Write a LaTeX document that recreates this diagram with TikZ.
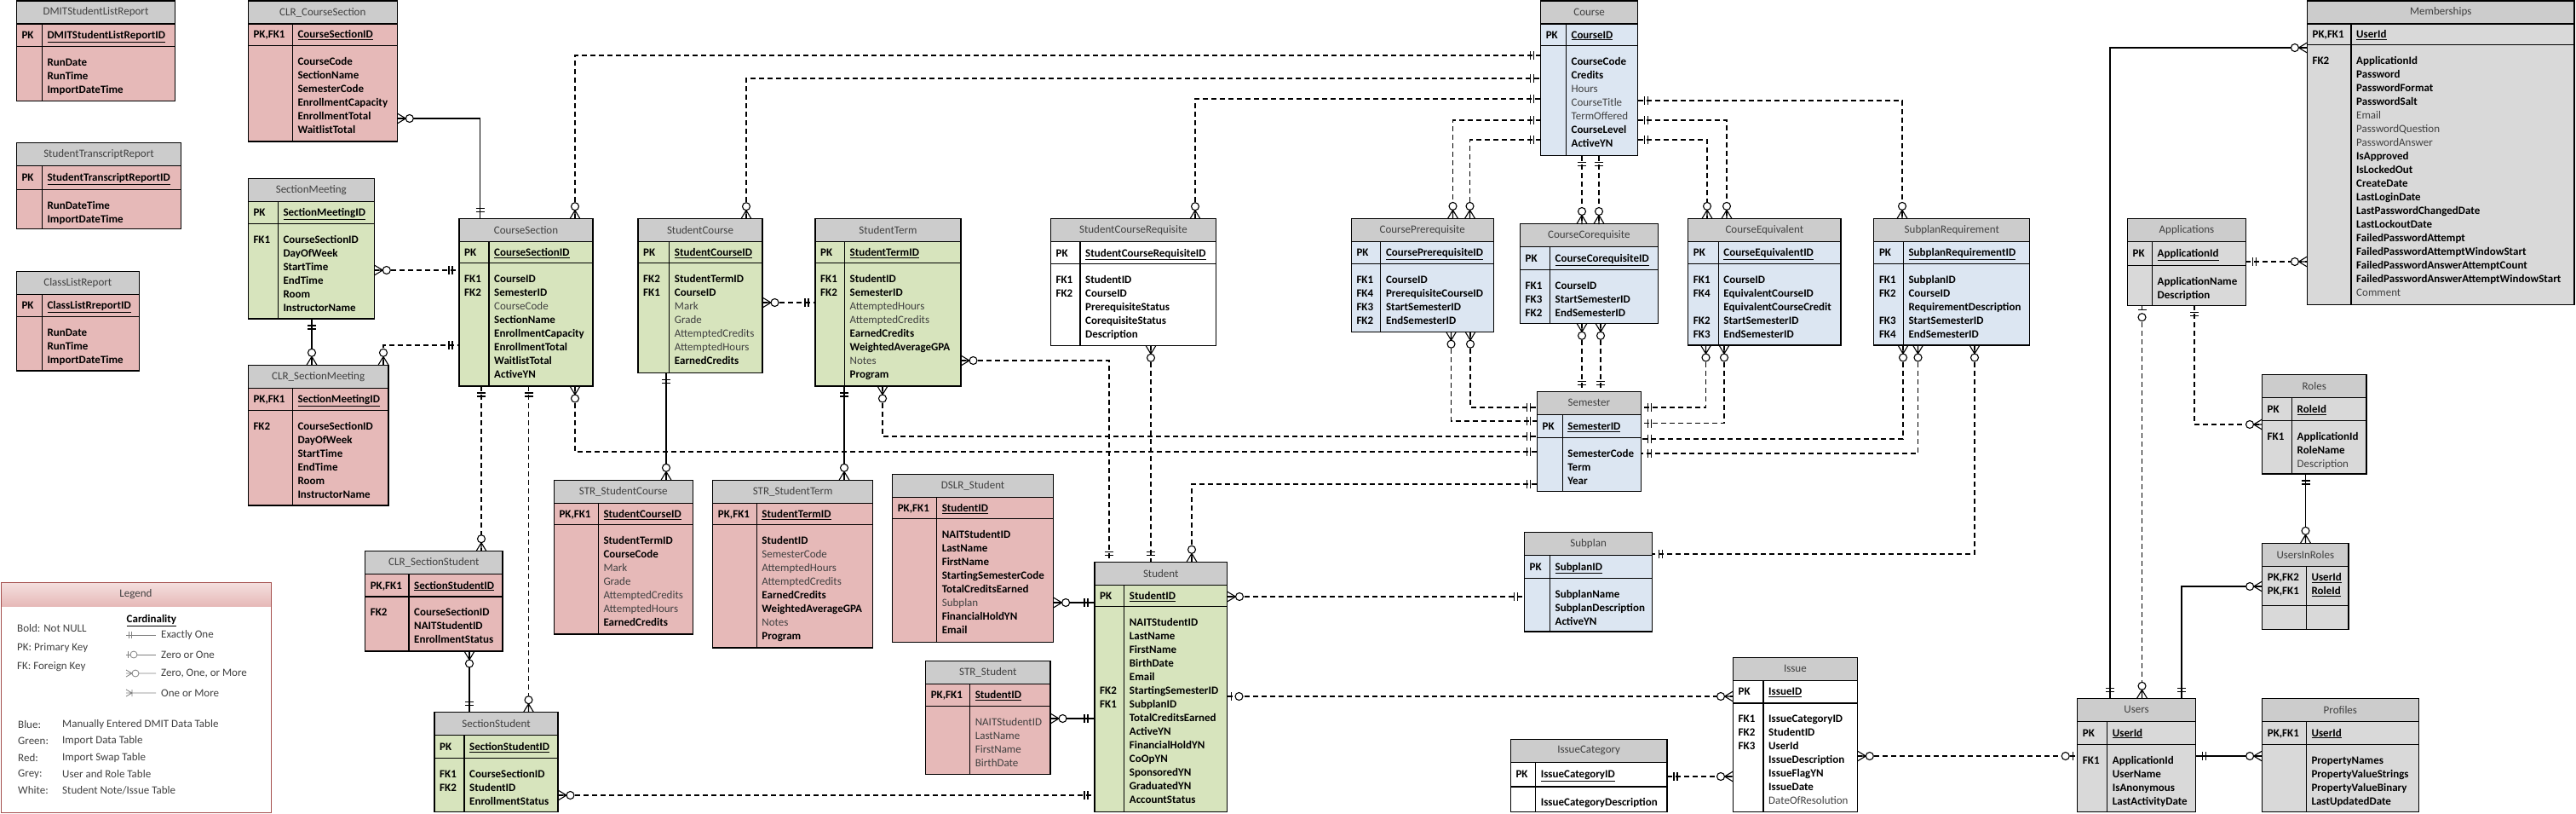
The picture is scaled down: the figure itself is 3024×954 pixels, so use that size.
\documentclass[tikz,border=0pt]{standalone}
\usepackage{fontspec}
\setmainfont{Carlito}
\definecolor{tred}{HTML}{E6B9B8}
\definecolor{tgreen}{HTML}{D7E4BD}
\definecolor{tblue}{HTML}{DCE6F2}
\definecolor{tgrey}{HTML}{D9D9D9}
\definecolor{thead}{HTML}{CCCCCC}
\definecolor{dgrey}{HTML}{404040}
\definecolor{lgred}{HTML}{A5504E}
\definecolor{lgtop}{HTML}{F4E0DF}
\definecolor{lgbot}{HTML}{E6B9B8}
\newcommand\optf[1]{{\mdseries\color{dgrey}#1}}
% table: name, left, top, width, key column, pk bottom, bottom, fill, title
\newcommand\etab[9]{%
  \node[tbl,fill=#8,minimum width=#4pt,minimum height={(#7-#3)*1pt},anchor=north west] (#1) at (#2,#3) {};
  \fill[thead] (#2,#3) rectangle (#2+#4,#3+27);
  \draw[tline] (#2,#3+27) -- ++(#4,0) (#2,#6) -- ++(#4,0) (#2+#5,#3+27) -- (#2+#5,#7);
  \draw[tline] (#1.north west) rectangle (#1.south east);
  \node[ttl] (#1-t) at (#2+#4/2,#3+13.5) {#9};
  \coordinate (#1-pk) at (#2+6,{(#3+27+#6)/2+4.3});
  \coordinate (#1-pf) at (#2+#5+6,{(#3+27+#6)/2+4.3});
  \coordinate (#1-bk) at (#2+6,#6+11.5);
  \coordinate (#1-bf) at (#2+#5+6,#6+11.5);
}
% rows: name, pk key, pk field, keys, fields
\newcommand\erow[5]{%
  \node[keyt,anchor=base west] (#1-k1) at (#1-pk) {#2};
  \node[fld,anchor=base west] (#1-f1) at (#1-pf) {\underline{#3}};
  \node[keyt,anchor=north west] (#1-k2) at (#1-bk) {\strut#4};
  \node[fld,anchor=north west] (#1-f2) at (#1-bf) {\strut#5};
}
% end marks: point on the table edge, direction away from the table
\newcommand\cOne[2]{\draw[sym,shift={#1},rotate=#2] (8,-5) -- (8,5) (12,-5) -- (12,5);}
\newcommand\cMany[2]{\draw[sym,shift={#1},rotate=#2] (0,-6) -- (10,0) -- (0,6) (0,0) -- (10,0);
  \draw[sym,fill=white,shift={#1},rotate=#2] (14.5,0) circle (4.5);}
\newcommand\cZone[2]{\draw[sym,shift={#1},rotate=#2] (5,-5) -- (5,5);
  \draw[sym,fill=white,shift={#1},rotate=#2] (14,0) circle (4.5);}
\begin{document}
\begin{tikzpicture}[x=1pt,y=-1pt,
  tbl/.style={inner sep=0,outer sep=0},
  tline/.style={line width=1.1pt},
  ttl/.style={font=\fontsize{13}{16}\selectfont,text=dgrey,inner sep=0},
  keyt/.style={font=\fontsize{13}{16}\selectfont\bfseries,align=left,inner sep=0},
  fld/.style={keyt},
  fk/.style={line width=1.2pt,dash pattern=on 6pt off 4pt},
  idf/.style={line width=1.2pt},
  sym/.style={line width=1.1pt,solid},
  lgt/.style={font=\fontsize{13}{16}\selectfont,text=dgrey,inner sep=0},
  lgsym/.style={line width=0.8pt,draw=gray}]
\useasboundingbox (0,0) rectangle (3024,954);
\fill[white] (0,0) rectangle (3024,954);

% report tables
\etab{dslr}{19.3}{1}{186.4}{30}{54.3}{118.3}{tred}{DMITStudentListReport}
\erow{dslr}{PK}{DMITStudentListReportID}{}{RunDate\\RunTime\\ImportDateTime}
\etab{strr}{19.3}{167.3}{193.4}{30}{222.3}{268.3}{tred}{StudentTranscriptReport}
\erow{strr}{PK}{StudentTranscriptReportID}{}{RunDateTime\\ImportDateTime}
\etab{clr}{19.3}{318.3}{144}{30}{371.3}{435}{tred}{ClassListReport}
\erow{clr}{PK}{ClassListRreportID}{}{RunDate\\RunTime\\ImportDateTime}

% sections
\etab{clrcs}{291.3}{1}{175}{52}{53.3}{166}{tred}{CLR\_CourseSection}
\erow{clrcs}{PK,FK1}{CourseSectionID}{}{CourseCode\\SectionName\\SemesterCode\\EnrollmentCapacity\\EnrollmentTotal\\WaitlistTotal}
\etab{sm}{291.3}{209.3}{148}{35}{262.3}{374}{tgreen}{SectionMeeting}
\erow{sm}{PK}{SectionMeetingID}{FK1}{CourseSectionID\\DayOfWeek\\StartTime\\EndTime\\Room\\InstructorName}
\etab{clrsm}{291.3}{428.3}{164.7}{52}{481.7}{593}{tred}{CLR\_SectionMeeting}
\erow{clrsm}{PK,FK1}{SectionMeetingID}{FK2}{CourseSectionID\\DayOfWeek\\StartTime\\EndTime\\Room\\InstructorName}
\etab{cs}{539}{256.7}{157}{35}{308.3}{453}{tgreen}{CourseSection}
\erow{cs}{PK}{CourseSectionID}{FK1\\FK2}{CourseID\\SemesterID\\\optf{CourseCode}\\SectionName\\EnrollmentCapacity\\EnrollmentTotal\\WaitlistTotal\\ActiveYN}
\etab{clrss}{428.6}{646.7}{161.4}{51.4}{700}{764}{tred}{CLR\_SectionStudent}
\erow{clrss}{PK,FK1}{SectionStudentID}{FK2}{CourseSectionID\\NAITStudentID\\EnrollmentStatus}
\etab{ss}{510}{835.7}{145}{35}{889.7}{952.5}{tgreen}{SectionStudent}
\erow{ss}{PK}{SectionStudentID}{FK1\\FK2}{CourseSectionID\\StudentID\\EnrollmentStatus}

% students
\etab{sc}{749}{256.7}{146}{36.7}{308.3}{437.3}{tgreen}{StudentCourse}
\erow{sc}{PK}{StudentCourseID}{FK2\\FK1}{StudentTermID\\CourseID\\\optf{Mark}\\\optf{Grade}\\\optf{AttemptedCredits}\\\optf{AttemptedHours}\\EarnedCredits}
\etab{st}{957}{256.7}{171}{34.5}{308.3}{453}{tgreen}{StudentTerm}
\erow{st}{PK}{StudentTermID}{FK1\\FK2}{StudentID\\SemesterID\\\optf{AttemptedHours}\\\optf{AttemptedCredits}\\EarnedCredits\\WeightedAverageGPA\\\optf{Notes}\\Program}
\etab{scr}{1233.4}{256.7}{194}{34.6}{309.7}{405.3}{white}{StudentCourseRequisite}
\erow{scr}{PK}{StudentCourseRequisiteID}{FK1\\FK2}{StudentID\\CourseID\\PrerequisiteStatus\\CorequisiteStatus\\Description}
\etab{strsc}{650.3}{563.3}{163}{52}{615.7}{744}{tred}{STR\_StudentCourse}
\erow{strsc}{PK,FK1}{StudentCourseID}{}{StudentTermID\\CourseCode\\\optf{Mark}\\\optf{Grade}\\\optf{AttemptedCredits}\\\optf{AttemptedHours}\\EarnedCredits}
\etab{strst}{836.7}{563.3}{188}{51.5}{615.7}{760}{tred}{STR\_StudentTerm}
\erow{strst}{PK,FK1}{StudentTermID}{}{StudentID\\\optf{SemesterCode}\\\optf{AttemptedHours}\\\optf{AttemptedCredits}\\EarnedCredits\\WeightedAverageGPA\\\optf{Notes}\\Program}
\etab{dslrs}{1047.6}{556.7}{189}{52}{608.3}{753.3}{tred}{DSLR\_Student}
\erow{dslrs}{PK,FK1}{StudentID}{}{NAITStudentID\\LastName\\FirstName\\StartingSemesterCode\\TotalCreditsEarned\\\optf{Subplan}\\FinancialHoldYN\\Email}
\etab{strs}{1086.6}{775.3}{146.4}{52}{828.3}{908.3}{tred}{STR\_Student}
\erow{strs}{PK,FK1}{StudentID}{}{\optf{NAITStudentID}\\\optf{LastName}\\\optf{FirstName}\\\optf{BirthDate}}
\etab{stu}{1285}{659.3}{155.5}{34.7}{711.7}{952.5}{tgreen}{Student}
\erow{stu}{PK}{StudentID}{{}\\{}\\{}\\{}\\{}\\FK2\\FK1}{NAITStudentID\\LastName\\FirstName\\BirthDate\\Email\\StartingSemesterID\\SubplanID\\TotalCreditsEarned\\ActiveYN\\FinancialHoldYN\\CoOpYN\\SponsoredYN\\GraduatedYN\\AccountStatus}

% courses
\etab{crs}{1808.6}{1}{114}{29.8}{53.6}{182.5}{tblue}{Course}
\erow{crs}{PK}{CourseID}{}{CourseCode\\Credits\\\optf{Hours}\\\optf{CourseTitle}\\\optf{TermOffered}\\CourseLevel\\ActiveYN}
\etab{cpre}{1586.3}{256.4}{166.8}{34.5}{309.2}{389.2}{tblue}{CoursePrerequisite}
\erow{cpre}{PK}{CoursePrerequisiteID}{FK1\\FK4\\FK3\\FK2}{CourseID\\PrerequisiteCourseID\\StartSemesterID\\EndSemesterID}
\etab{ccor}{1784.5}{262.5}{161.6}{35}{316.5}{379.3}{tblue}{CourseCorequisite}
\erow{ccor}{PK}{CourseCorequisiteID}{FK1\\FK3\\FK2}{CourseID\\StartSemesterID\\EndSemesterID}
\etab{ceq}{1981.7}{256.4}{179.3}{35.5}{309.2}{405}{tblue}{CourseEquivalent}
\erow{ceq}{PK}{CourseEquivalentID}{FK1\\FK4\\{}\\FK2\\FK3}{CourseID\\EquivalentCourseID\\EquivalentCourseCredit\\StartSemesterID\\EndSemesterID}
\etab{sreq}{2199.8}{256.4}{183}{34.5}{309.2}{405}{tblue}{SubplanRequirement}
\erow{sreq}{PK}{SubplanRequirementID}{FK1\\FK2\\{}\\FK3\\FK4}{SubplanID\\CourseID\\RequirementDescription\\StartSemesterID\\EndSemesterID}
\etab{sem}{1804.4}{459.2}{121.8}{29.8}{513.6}{576.7}{tblue}{Semester}
\erow{sem}{PK}{SemesterID}{}{SemesterCode\\Term\\Year}
\etab{sub}{1789.4}{624.3}{150.4}{30}{678.3}{741}{tblue}{Subplan}
\erow{sub}{PK}{SubplanID}{}{SubplanName\\SubplanDescription\\ActiveYN}

% issues
\etab{iss}{2034.5}{771.3}{145.8}{35.5}{825}{952.5}{white}{Issue}
\erow{iss}{PK}{IssueID}{FK1\\FK2\\FK3}{IssueCategoryID\\StudentID\\UserId\\IssueDescription\\IssueFlagYN\\IssueDate\\\optf{DateOfResolution}}
\etab{icat}{1773.3}{867.3}{183.7}{29.3}{923}{952.5}{white}{IssueCategory}
\erow{icat}{PK}{IssueCategoryID}{}{IssueCategoryDescription}

% users and roles
\etab{mem}{2708.4}{1}{313.6}{51.6}{52.4}{357.8}{tgrey}{Memberships}
\erow{mem}{PK,FK1}{UserId}{FK2}{ApplicationId\\Password\\PasswordFormat\\PasswordSalt\\\optf{Email}\\\optf{PasswordQuestion}\\\optf{PasswordAnswer}\\IsApproved\\IsLockedOut\\CreateDate\\LastLoginDate\\LastPasswordChangedDate\\LastLockoutDate\\FailedPasswordAttempt\\FailedPasswordAttemptWindowStart\\FailedPasswordAnswerAttemptCount\\FailedPasswordAnswerAttemptWindowStart\\\optf{Comment}}
\etab{app}{2497.5}{256.4}{138.9}{29}{311.1}{358.2}{tgrey}{Applications}
\erow{app}{PK}{ApplicationId}{}{ApplicationName\\Description}
\etab{rol}{2655.5}{439.3}{122.5}{35}{493.7}{556}{tgrey}{Roles}
\erow{rol}{PK}{RoleId}{FK1}{ApplicationId\\RoleName\\\optf{Description}}
\etab{uir}{2655.6}{637.3}{101.4}{51.7}{710.3}{738.3}{tgrey}{UsersInRoles}
\node[keyt,anchor=north west] (uir-k1) at (2661.6,670) {\strut PK,FK2\\PK,FK1};
\node[fld,anchor=north west] (uir-f1) at (2713.3,670) {\strut\underline{UserId}\\\underline{RoleId}};
\etab{usr}{2438.7}{819.3}{138.8}{35}{873.3}{952.5}{tgrey}{Users}
\erow{usr}{PK}{UserId}{FK1}{ApplicationId\\UserName\\IsAnonymous\\LastActivityDate}
\etab{prof}{2655.6}{819.3}{183.5}{51.7}{873.3}{952.5}{tgrey}{Profiles}
\erow{prof}{PK,FK1}{UserId}{}{PropertyNames\\PropertyValueStrings\\PropertyValueBinary\\LastUpdatedDate}

% legend
\node[tbl,minimum width=317pt,minimum height=270pt,anchor=north west] (lg) at (1,683) {};
\shade[top color=lgtop,bottom color=lgbot] (1,683) rectangle (318,711);
\draw[lgred,line width=1pt] (lg.north west) rectangle (lg.south east);
\node[lgt] (lg-t) at (159.5,697) {Legend};
\node[lgt,anchor=west] (lg-b) at (20,737) {Bold: Not NULL};
\node[lgt,anchor=west] (lg-p) at (20,760) {PK: Primary Key};
\node[lgt,anchor=west] (lg-f) at (20,782) {FK: Foreign Key};
\node[lgt,anchor=west,text=black,font=\fontsize{13}{16}\selectfont\bfseries] (lg-c) at (148.5,728) {\underline{Cardinality}};
\foreach \y/\t [count=\i] in {745/Exactly One,768/Zero or One,790/{Zero, One, or More},813/One or More}
{
  \node[lgt,anchor=west] (lg-s\i) at (189,\y) {\t};
}
\draw[lgsym] (148,745) -- (183,745) (151,741) -- (151,749) (154,741) -- (154,749);
\draw[lgsym] (148,768) -- (183,768) (150,764) -- (150,772);
\draw[lgsym,fill=white] (157,768) circle (4);
\draw[lgsym] (148,786) -- (155,790) -- (148,794) (148,790) -- (183,790);
\draw[lgsym,fill=white] (159,790) circle (4);
\draw[lgsym] (148,809) -- (155,813) -- (148,817) (148,813) -- (183,813) (155,809) -- (155,817);
\foreach \y/\a/\b [count=\i] in {850/Blue:/Manually Entered DMIT Data Table,869/Green:/Import Data Table,889/Red:/Import Swap Table,908/Grey:/User and Role Table,927/White:/{Student Note/Issue Table}}
{
  \node[lgt,anchor=west] (lg-a\i) at (21,\y) {\a};
  \node[lgt,anchor=west] (lg-d\i) at (73,\y) {\b};
}

% relationships
\draw[idf] (clrcs.east |- 0,139) -| (cs.north -| 563.6,0);
\cMany{(clrcs.east |- 0,139)}{0}\cOne{(cs.north -| 563.6,0)}{90}
\draw[fk] (sm.east |- 0,317) -- (cs.west |- 0,317);
\cMany{(sm.east |- 0,317)}{0}\cOne{(cs.west |- 0,317)}{180}
\draw[idf] (sm.south -| 366,0) -- (clrsm.north -| 366,0);
\cOne{(sm.south -| 366,0)}{270}\cMany{(clrsm.north -| 366,0)}{90}
\draw[fk] (clrsm.north -| 450,0) |- (cs.west |- 0,405);
\cMany{(clrsm.north -| 450,0)}{90}\cOne{(cs.west |- 0,405)}{180}
\draw[fk] (cs.north -| 675,0) |- (crs.west |- 0,65);
\cMany{(cs.north -| 675,0)}{90}\cOne{(crs.west |- 0,65)}{180}
\draw[fk] (sc.north -| 876,0) |- (crs.west |- 0,92);
\cMany{(sc.north -| 876,0)}{90}\cOne{(crs.west |- 0,92)}{180}
\draw[fk] (sc.east |- 0,355) -- (st.west |- 0,355);
\cMany{(sc.east |- 0,355)}{0}\cOne{(st.west |- 0,355)}{180}
\draw[fk] (scr.north -| 1403,0) |- (crs.west |- 0,116);
\cMany{(scr.north -| 1403,0)}{90}\cOne{(crs.west |- 0,116)}{180}
\draw[fk] (cs.south -| 565,0) -- (clrss.north -| 565,0);
\cOne{(cs.south -| 565,0)}{270}\cMany{(clrss.north -| 565,0)}{90}
\draw[fk] (cs.south -| 620.5,0) -- (ss.north -| 620.5,0);
\cOne{(cs.south -| 620.5,0)}{270}\cMany{(ss.north -| 620.5,0)}{90}
\draw[fk] (cs.south -| 675,0) |- (sem.west |- 0,530);
\cMany{(cs.south -| 675,0)}{270}\cOne{(sem.west |- 0,530)}{180}
\draw[idf] (clrss.south -| 551,0) -- (ss.north -| 551,0);
\cMany{(clrss.south -| 551,0)}{270}\cOne{(ss.north -| 551,0)}{90}
\draw[idf] (sc.south -| 782,0) -- (strsc.north -| 782,0);
\cOne{(sc.south -| 782,0)}{270}\cMany{(strsc.north -| 782,0)}{90}
\draw[idf] (st.south -| 991,0) -- (strst.north -| 991,0);
\cOne{(st.south -| 991,0)}{270}\cMany{(strst.north -| 991,0)}{90}
\draw[fk] (st.south -| 1036,0) |- (sem.west |- 0,512);
\cMany{(st.south -| 1036,0)}{270}\cOne{(sem.west |- 0,512)}{180}
\draw[fk] (st.east |- 0,423) -| (stu.north -| 1302,0);
\cMany{(st.east |- 0,423)}{0}\cOne{(stu.north -| 1302,0)}{90}
\draw[fk] (scr.south -| 1351,0) -- (stu.north -| 1351,0);
\cMany{(scr.south -| 1351,0)}{270}\cOne{(stu.north -| 1351,0)}{90}
\draw[fk] (stu.north -| 1399,0) |- (sem.west |- 0,568);
\cMany{(stu.north -| 1399,0)}{90}\cOne{(sem.west |- 0,568)}{180}
\draw[idf] (dslrs.east |- 0,707) -- (stu.west |- 0,707);
\cMany{(dslrs.east |- 0,707)}{0}\cOne{(stu.west |- 0,707)}{180}
\draw[idf] (strs.east |- 0,843) -- (stu.west |- 0,843);
\cMany{(strs.east |- 0,843)}{0}\cOne{(stu.west |- 0,843)}{180}
\draw[fk] (ss.east |- 0,933) -- (stu.west |- 0,933);
\cMany{(ss.east |- 0,933)}{0}\cOne{(stu.west |- 0,933)}{180}
\draw[fk] (stu.east |- 0,700) -- (sub.west |- 0,700);
\cMany{(stu.east |- 0,700)}{0}\cOne{(sub.west |- 0,700)}{180}
\draw[fk] (stu.east |- 0,817) -- (iss.west |- 0,817);
\cZone{(stu.east |- 0,817)}{0}\cMany{(iss.west |- 0,817)}{180}
\draw[fk] (icat.east |- 0,911) -- (iss.west |- 0,911);
\cOne{(icat.east |- 0,911)}{0}\cMany{(iss.west |- 0,911)}{180}
\draw[fk] (iss.east |- 0,887) -- (usr.west |- 0,887);
\cMany{(iss.east |- 0,887)}{0}\cZone{(usr.west |- 0,887)}{180}
\draw[fk] (crs.west |- 0,141) -| (cpre.north -| 1705.5,0);
\cOne{(crs.west |- 0,141)}{180}\cMany{(cpre.north -| 1705.5,0)}{90}
\draw[fk] (crs.west |- 0,164) -| (cpre.north -| 1725.5,0);
\cOne{(crs.west |- 0,164)}{180}\cMany{(cpre.north -| 1725.5,0)}{90}
\draw[fk] (crs.south -| 1857,0) -- (ccor.north -| 1857,0);
\cOne{(crs.south -| 1857,0)}{270}\cMany{(ccor.north -| 1857,0)}{90}
\draw[fk] (crs.south -| 1877,0) -- (ccor.north -| 1877,0);
\cOne{(crs.south -| 1877,0)}{270}\cMany{(ccor.north -| 1877,0)}{90}
\draw[fk] (crs.east |- 0,141) -| (ceq.north -| 2027,0);
\cOne{(crs.east |- 0,141)}{0}\cMany{(ceq.north -| 2027,0)}{90}
\draw[fk] (crs.east |- 0,164) -| (ceq.north -| 2004,0);
\cOne{(crs.east |- 0,164)}{0}\cMany{(ceq.north -| 2004,0)}{90}
\draw[fk] (crs.east |- 0,118) -| (sreq.north -| 2233,0);
\cOne{(crs.east |- 0,118)}{0}\cMany{(sreq.north -| 2233,0)}{90}
\draw[fk] (cpre.south -| 1703.5,0) |- (sem.west |- 0,494);
\cMany{(cpre.south -| 1703.5,0)}{270}\cOne{(sem.west |- 0,494)}{180}
\draw[fk] (cpre.south -| 1726,0) |- (sem.west |- 0,478);
\cMany{(cpre.south -| 1726,0)}{270}\cOne{(sem.west |- 0,478)}{180}
\draw[fk] (ccor.south -| 1857,0) -- (sem.north -| 1857,0);
\cMany{(ccor.south -| 1857,0)}{270}\cOne{(sem.north -| 1857,0)}{90}
\draw[fk] (ccor.south -| 1879,0) -- (sem.north -| 1879,0);
\cMany{(ccor.south -| 1879,0)}{270}\cOne{(sem.north -| 1879,0)}{90}
\draw[fk] (ceq.south -| 2002.5,0) |- (sem.east |- 0,478);
\cMany{(ceq.south -| 2002.5,0)}{270}\cOne{(sem.east |- 0,478)}{0}
\draw[fk] (ceq.south -| 2024,0) |- (sem.east |- 0,496.5);
\cMany{(ceq.south -| 2024,0)}{270}\cOne{(sem.east |- 0,496.5)}{0}
\draw[fk] (sreq.south -| 2234,0) |- (sem.east |- 0,515);
\cMany{(sreq.south -| 2234,0)}{270}\cOne{(sem.east |- 0,515)}{0}
\draw[fk] (sreq.south -| 2251.5,0) |- (sem.east |- 0,532);
\cMany{(sreq.south -| 2251.5,0)}{270}\cOne{(sem.east |- 0,532)}{0}
\draw[fk] (sreq.south -| 2318,0) |- (sub.east |- 0,650);
\cMany{(sreq.south -| 2318,0)}{270}\cOne{(sub.east |- 0,650)}{0}
\draw[idf] (mem.west |- 0,56) -| (usr.north -| 2477,0);
\cMany{(mem.west |- 0,56)}{180}\cOne{(usr.north -| 2477,0)}{90}
\draw[fk] (app.east |- 0,307) -- (mem.west |- 0,307);
\cOne{(app.east |- 0,307)}{0}\cMany{(mem.west |- 0,307)}{180}
\draw[fk] (app.south -| 2514.5,0) -- (usr.north -| 2514.5,0);
\cZone{(app.south -| 2514.5,0)}{270}\cMany{(usr.north -| 2514.5,0)}{90}
\draw[fk] (app.south -| 2576,0) |- (rol.west |- 0,498);
\cOne{(app.south -| 2576,0)}{270}\cMany{(rol.west |- 0,498)}{180}
\draw[idf] (rol.south -| 2706.5,0) -- (uir.north -| 2706.5,0);
\cOne{(rol.south -| 2706.5,0)}{270}\cMany{(uir.north -| 2706.5,0)}{90}
\draw[idf] (uir.west |- 0,688) -| (usr.north -| 2561,0);
\cMany{(uir.west |- 0,688)}{180}\cOne{(usr.north -| 2561,0)}{90}
\draw[idf] (usr.east |- 0,887) -- (prof.west |- 0,887);
\cOne{(usr.east |- 0,887)}{0}\cMany{(prof.west |- 0,887)}{180}
\end{tikzpicture}
\end{document}
